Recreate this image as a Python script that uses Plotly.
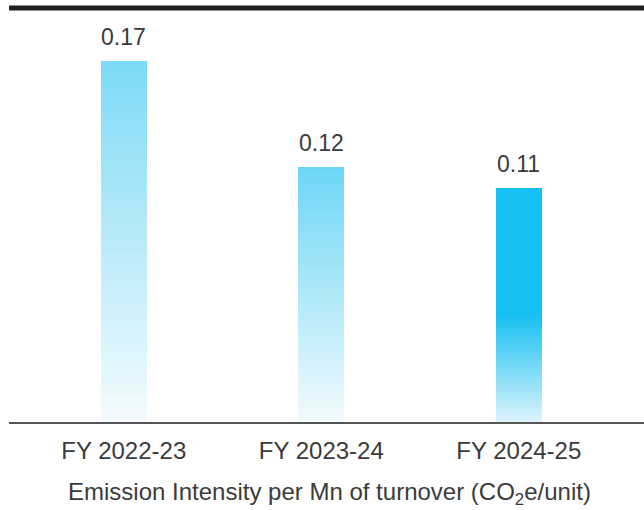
import plotly.graph_objects as go

# Emission intensity per Mn of turnover, by financial year
years = ["FY 2022-23", "FY 2023-24", "FY 2024-25"]
intensity = [0.17, 0.12, 0.11]
value_labels = ["0.17", "0.12", "0.11"]
chart_title = "Emission Intensity per Mn of turnover (CO<sub>2</sub>e/unit)"

# gradient stops per bar: (fraction of bar height from bottom, colour)
bar_gradients = [
    [(0.0, "#F4FBFE"), (1.0, "#7DDAF6")],
    [(0.0, "#F3FBFE"), (1.0, "#6DD6F5")],
    [(0.0, "#DDF4FC"), (0.46, "#16C0F2"), (1.0, "#16C0F2")],
]

N_SLICES = 140
TEXT_COLOR = "#3b3b3b"
FONT = "Liberation Sans, Arial, Helvetica, sans-serif"


def hex_to_rgb(h):
    h = h.lstrip("#")
    return tuple(int(h[i:i + 2], 16) for i in (0, 2, 4))


def colour_at(stops, t):
    for (t0, c0), (t1, c1) in zip(stops, stops[1:]):
        if t <= t1:
            f = 0 if t1 == t0 else (t - t0) / (t1 - t0)
            a, b = hex_to_rgb(c0), hex_to_rgb(c1)
            return "rgb({},{},{})".format(*[round(a[i] + (b[i] - a[i]) * f) for i in range(3)])
    return stops[-1][1]


# each bar is built from thin stacked slices to render the vertical gradient
xs, bases, heights, colours = [], [], [], []
for year, val, stops in zip(years, intensity, bar_gradients):
    step = val / N_SLICES
    for k in range(N_SLICES):
        xs.append(year)
        bases.append(k * step)
        heights.append(step * 1.02)
        colours.append(colour_at(stops, (k + 0.5) / N_SLICES))

fig = go.Figure()
fig.add_trace(go.Bar(
    x=xs, y=heights, base=bases,
    width=0.233,
    marker=dict(color=colours, line=dict(width=0)),
    hoverinfo="skip",
    showlegend=False,
))

for year, val, lab in zip(years, intensity, value_labels):
    fig.add_annotation(
        x=year, y=val, text=lab, showarrow=False,
        yanchor="bottom", yshift=9,
        font=dict(family=FONT, size=23, color=TEXT_COLOR),
    )

# caption beneath the category labels
fig.add_annotation(
    xref="paper", yref="paper", x=0.5055, y=0,
    xanchor="center", yanchor="middle", yshift=-71,
    text=chart_title, showarrow=False,
    font=dict(family=FONT, size=24, color=TEXT_COLOR),
)

# heavy rule across the top of the panel
fig.add_shape(type="line", xref="paper", yref="paper",
              x0=0, x1=1, y0=1, y1=1,
              line=dict(color="#231F20", width=5))

fig.update_layout(
    width=644, height=510,
    margin=dict(l=9, r=0, t=8, b=88),
    paper_bgcolor="white", plot_bgcolor="white",
    barmode="overlay",
    bargap=0,
    font=dict(family=FONT, color=TEXT_COLOR),
    xaxis=dict(
        type="category",
        range=[-0.581, 2.634],
        showline=True, linecolor="#555555", linewidth=2,
        showgrid=False, zeroline=False, ticks="",
        ticklabelstandoff=6,
        tickfont=dict(family=FONT, size=24, color=TEXT_COLOR),
    ),
    yaxis=dict(
        range=[0, 0.195],
        visible=False,
        showgrid=False, zeroline=False,
    ),
)

fig.write_html("out.html")
